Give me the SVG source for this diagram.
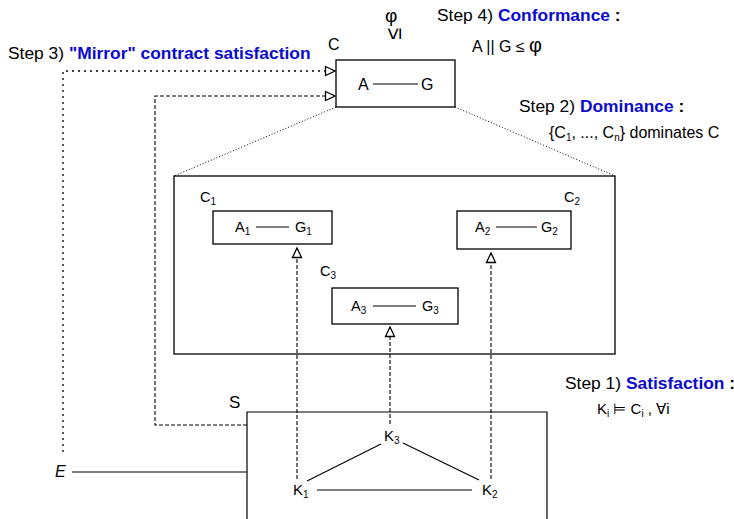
<svg xmlns="http://www.w3.org/2000/svg" width="734" height="519" viewBox="0 0 734 519">
  <style>
    text { font-family: "Liberation Sans", Arial, sans-serif; font-size: 14.5px; fill: #000; }
    .sub { font-size: 10px; }
    .big { font-size: 16px; }
    .step { font-size: 17.4px; }
    .formula { font-size: 16px; }
    .blue { fill: #0a0ad0; font-weight: bold; }
    .bold { font-weight: bold; }
    .box { fill: #fff; stroke: #000; stroke-width: 1.3; }
    .frame { fill: none; stroke: #000; stroke-width: 1.3; }
    .ln { stroke: #000; stroke-width: 1.2; fill: none; }
    .dash { stroke: #000; stroke-width: 1.1; fill: none; stroke-dasharray: 4 2; }
    .dot { stroke: #000; stroke-width: 1.3; fill: none; stroke-dasharray: 2 4; }
    .fine { stroke: #000; stroke-width: 1; fill: none; stroke-dasharray: 1 2; }
  </style>
  <defs>
    <marker id="tri" markerUnits="userSpaceOnUse" markerWidth="13" markerHeight="13" refX="11" refY="6" orient="auto">
      <path d="M1.5,1.5 L11,6 L1.5,10.5 Z" fill="#fff" stroke="#000" stroke-width="1.3"/>
    </marker>
  </defs>
  <rect width="734" height="519" fill="#fff"/>

  <!-- refinement frame -->
  <g id="refinement">
    <rect class="frame" x="174" y="176" width="441" height="178"/>
  </g>

  <!-- connectors -->
  <g id="connectors">
    <!-- abstraction of C into its refinement -->
    <line class="fine" x1="336" y1="107" x2="174" y2="176"/>
    <line class="fine" x1="455" y1="107" x2="615" y2="176"/>
    <!-- environment mirror contract -->
    <polyline class="dot" points="63,452 63,71 335,71" marker-end="url(#tri)"/>
    <!-- system to C -->
    <polyline class="dash" points="247,425 155,425 155,96 335,96" marker-end="url(#tri)"/>
    <!-- components to their contracts -->
    <line class="dash" x1="297" y1="479" x2="297" y2="248" marker-end="url(#tri)"/>
    <line class="dash" x1="390" y1="424" x2="390" y2="327" marker-end="url(#tri)"/>
    <line class="dash" x1="491" y1="479" x2="491" y2="253" marker-end="url(#tri)"/>
    <!-- environment to system -->
    <line class="ln" x1="72" y1="472" x2="247" y2="472"/>
    <!-- component links -->
    <line class="ln" x1="307" y1="481" x2="381" y2="444"/>
    <line class="ln" x1="403" y1="443" x2="479" y2="480"/>
    <line class="ln" x1="317" y1="490" x2="472" y2="490"/>
  </g>

  <!-- top contract C -->
  <g id="contract-C">
    <rect class="box" x="336" y="60" width="119" height="47"/>
    <text class="big" x="328" y="50">C</text>
    <text class="big" x="358" y="90">A</text>
    <line class="ln" x1="373" y1="84" x2="418" y2="84"/>
    <text class="big" x="421" y="90">G</text>
  </g>

  <!-- specification phi -->
  <g id="phi">
    <text x="385" y="22" style="font-size:19px">φ</text>
    <text x="0" y="0" transform="translate(393,34) rotate(-90)" style="font-size:22px" text-anchor="middle" dominant-baseline="central">≤</text>
  </g>

  <g id="contract-C1">
    <text x="200" y="202">C<tspan class="sub" dy="3">1</tspan></text>
    <rect class="box" x="213" y="211" width="119" height="33"/>
    <text x="235" y="232">A<tspan class="sub" dy="3">1</tspan></text>
    <line class="ln" x1="256" y1="227" x2="289" y2="227"/>
    <text x="295" y="232">G<tspan class="sub" dy="3">1</tspan></text>
  </g>

  <g id="contract-C2">
    <text x="564" y="202">C<tspan class="sub" dy="3">2</tspan></text>
    <rect class="box" x="457" y="211" width="114" height="38"/>
    <text x="475" y="232">A<tspan class="sub" dy="3">2</tspan></text>
    <line class="ln" x1="496" y1="227" x2="537" y2="227"/>
    <text x="541" y="232">G<tspan class="sub" dy="3">2</tspan></text>
  </g>

  <g id="contract-C3">
    <text x="320" y="276">C<tspan class="sub" dy="3">3</tspan></text>
    <rect class="box" x="332" y="288" width="126" height="36"/>
    <text x="351" y="311">A<tspan class="sub" dy="3">3</tspan></text>
    <line class="ln" x1="373" y1="306" x2="416" y2="306"/>
    <text x="422" y="311">G<tspan class="sub" dy="3">3</tspan></text>
  </g>

  <!-- system S -->
  <g id="system-S">
    <polyline class="ln" points="247,519 247,412 547,412 547,519"/>
    <text x="229" y="408" style="font-size:17px">S</text>
  </g>

  <g id="K1"><text x="293" y="495" style="font-size:15px">K<tspan class="sub" dy="3">1</tspan></text></g>
  <g id="K2"><text x="482" y="495" style="font-size:15px">K<tspan class="sub" dy="3">2</tspan></text></g>
  <g id="K3"><text x="384" y="441" style="font-size:15px">K<tspan class="sub" dy="3">3</tspan></text></g>

  <g id="environment-E">
    <text x="55" y="477" style="font-size:16px;font-style:italic">E</text>
  </g>

  <!-- step annotations -->
  <g id="step3">
    <text class="step" x="8" y="59">Step 3) <tspan class="blue">"Mirror" contract satisfaction</tspan></text>
  </g>
  <g id="step4">
    <text class="step" x="437" y="21">Step 4) <tspan class="blue">Conformance</tspan><tspan class="bold"> :</tspan></text>
    <text class="formula" x="472" y="52">A || G ≤ <tspan style="font-size:20px">φ</tspan></text>
  </g>
  <g id="step2">
    <text class="step" x="519" y="112">Step 2) <tspan class="blue">Dominance</tspan><tspan class="bold"> :</tspan></text>
    <text class="formula" x="549" y="138">{C<tspan class="sub" dy="3">1</tspan><tspan dy="-3">, ..., C</tspan><tspan class="sub" dy="3">n</tspan><tspan dy="-3">} dominates C</tspan></text>
  </g>
  <g id="step1">
    <text class="step" x="565" y="389">Step 1) <tspan class="blue">Satisfaction</tspan><tspan class="bold"> :</tspan></text>
    <text x="597" y="414" style="font-size:15px">K<tspan class="sub" dy="3">i</tspan><tspan dy="-3"> ⊨ C</tspan><tspan class="sub" dy="3">i</tspan><tspan dy="-3"> , ∀i</tspan></text>
  </g>
</svg>
